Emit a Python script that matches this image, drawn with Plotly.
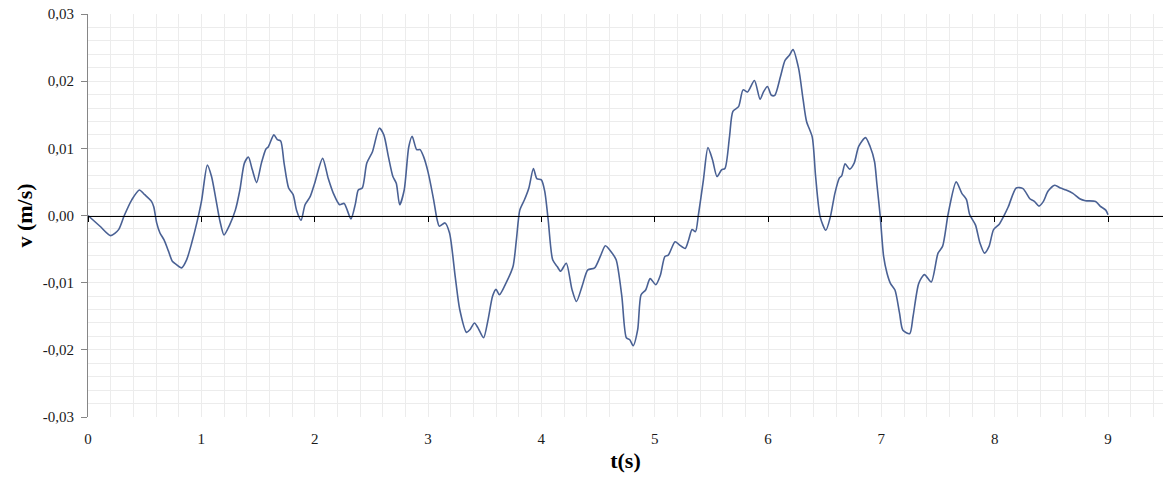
import plotly.graph_objects as go

# time (s)
t = [0, 0.106, 0.2, 0.27, 0.32, 0.385, 0.453, 0.5, 0.56, 0.58, 0.606, 0.635, 0.67, 0.71, 0.744,
     0.78, 0.826, 0.87, 0.915, 0.96, 1.003, 1.053, 1.09, 1.135, 1.165, 1.2, 1.25, 1.30, 1.34,
     1.38, 1.415, 1.45, 1.488, 1.53, 1.57, 1.59, 1.64, 1.67, 1.70, 1.73, 1.77, 1.81, 1.84, 1.88,
     1.915, 1.96, 2.0, 2.07, 2.12, 2.165, 2.22, 2.26, 2.32, 2.36, 2.385, 2.42, 2.46, 2.51, 2.57,
     2.61, 2.65, 2.69, 2.72, 2.75, 2.79, 2.83, 2.86, 2.90, 2.93, 2.96, 3.0, 3.05, 3.08, 3.10,
     3.15, 3.19, 3.24, 3.28, 3.34, 3.37, 3.41, 3.44, 3.49, 3.53, 3.57, 3.60, 3.63, 3.69, 3.75,
     3.78, 3.81, 3.85, 3.89, 3.93, 3.96, 4.0, 4.03, 4.06, 4.10, 4.14, 4.17, 4.22, 4.27, 4.31,
     4.36, 4.41, 4.47, 4.52, 4.565, 4.62, 4.66, 4.71, 4.75, 4.78, 4.81, 4.85, 4.88, 4.92, 4.96,
     5.01, 5.05, 5.09, 5.12, 5.18, 5.22, 5.27, 5.30, 5.33, 5.36, 5.385, 5.43, 5.47, 5.51, 5.55,
     5.59, 5.62, 5.66, 5.69, 5.74, 5.78, 5.82, 5.88, 5.93, 5.96, 5.995, 6.03, 6.06, 6.11, 6.15,
     6.19, 6.22, 6.27, 6.31, 6.34, 6.39, 6.42, 6.46, 6.51, 6.55, 6.59, 6.63, 6.65, 6.68, 6.72,
     6.76, 6.80, 6.86, 6.90, 6.94, 6.96, 6.99, 7.02, 7.05, 7.08, 7.12, 7.16, 7.19, 7.25, 7.28,
     7.33, 7.38, 7.44, 7.50, 7.54, 7.59, 7.66, 7.71, 7.75, 7.78, 7.83, 7.87, 7.91, 7.95, 7.99,
     8.04, 8.08, 8.12, 8.19, 8.25, 8.31, 8.35, 8.39, 8.43, 8.47, 8.53, 8.58, 8.63, 8.69, 8.75,
     8.80, 8.89, 8.93, 8.98, 9.0]

# velocity (m/s)
v = [0.0, -0.0016, -0.0030, -0.0021, 0.0000, 0.0023, 0.0038, 0.0031, 0.0021, 0.0013, -0.0011,
     -0.0026, -0.0036, -0.0053, -0.0068, -0.0073, -0.0078, -0.0066, -0.0041, -0.0011, 0.0023,
     0.0075, 0.0058, 0.0018, -0.0009, -0.0029, -0.0014, 0.0008, 0.0038, 0.0078, 0.0087, 0.0068,
     0.0049, 0.0078, 0.0099, 0.0102, 0.0120, 0.0113, 0.0111, 0.0078, 0.0041, 0.0031, 0.0008,
     -0.0007, 0.0016, 0.0028, 0.0048, 0.0085, 0.0055, 0.0033, 0.0016, 0.0018, -0.0005, 0.0018,
     0.0038, 0.0041, 0.0078, 0.0095, 0.0130, 0.0120, 0.0088, 0.0058, 0.0048, 0.0016, 0.0038,
     0.0102, 0.0118, 0.0098, 0.0098, 0.0088, 0.0065, 0.0023, -0.0006, -0.0016, -0.0011, -0.0026,
     -0.0091, -0.0140, -0.0174, -0.0170, -0.0160, -0.0167, -0.0182, -0.0155, -0.0120, -0.0110,
     -0.0118, -0.0100, -0.0076, -0.0036, 0.0008, 0.0023, 0.0041, 0.0070, 0.0055, 0.0053, 0.0036,
     -0.0006, -0.0066, -0.0076, -0.0083, -0.0071, -0.0110, -0.0128, -0.0105, -0.0081, -0.0078,
     -0.0061, -0.0045, -0.0055, -0.0066, -0.0120, -0.0182, -0.0185, -0.0194, -0.0170, -0.0118,
     -0.0111, -0.0094, -0.0103, -0.0089, -0.0061, -0.0059, -0.0039, -0.0044, -0.0049, -0.0036,
     -0.0021, -0.0024, 0.0000, 0.0053, 0.0101, 0.0083, 0.0058, 0.0068, 0.0070, 0.0117, 0.0155,
     0.0162, 0.0187, 0.0184, 0.0201, 0.0173, 0.0184, 0.0192, 0.0179, 0.0179, 0.0207, 0.0231,
     0.0239, 0.0247, 0.0219, 0.0172, 0.0140, 0.0117, 0.0058, -0.0002, -0.0022, -0.0002, 0.0033,
     0.0056, 0.0059, 0.0077, 0.0069, 0.0078, 0.0103, 0.0116, 0.0103, 0.0080, 0.0048, -0.0001,
     -0.0061, -0.0086, -0.0101, -0.0111, -0.0145, -0.0171, -0.0176, -0.0150, -0.0101, -0.0088,
     -0.0099, -0.0056, -0.0046, 0.0003, 0.0050, 0.0033, 0.0024, 0.0001, -0.0014, -0.0041,
     -0.0056, -0.0046, -0.0021, -0.0013, -0.0001, 0.0013, 0.0041, 0.0040, 0.0025, 0.0021,
     0.0014, 0.0021, 0.0036, 0.0045, 0.0041, 0.0038, 0.0033, 0.0025, 0.0022, 0.0021, 0.0014,
     0.0008, 0.0001]

x_ticks = [0, 1, 2, 3, 4, 5, 6, 7, 8, 9]
x_ticktext = ["0", "1", "2", "3", "4", "5", "6", "7", "8", "9"]
y_ticks = [-0.03, -0.02, -0.01, 0.0, 0.01, 0.02, 0.03]
y_ticktext = ["-0,03", "-0,02", "-0,01", "0,00", "0,01", "0,02", "0,03"]

FONT = "Liberation Serif, Times New Roman, serif"
GRID = "#ececec"

fig = go.Figure()
fig.add_trace(go.Scatter(
    x=t, y=v, mode="lines",
    line=dict(color="#4a6194", width=1.6, shape="spline", smoothing=0.7),
    showlegend=False, hoverinfo="x+y",
))
# invisible companion trace to activate the zero-crossing axis
fig.add_trace(go.Scatter(
    x=t, y=v, mode="lines", xaxis="x2",
    line=dict(color="rgba(0,0,0,0)", width=0),
    showlegend=False, hoverinfo="skip",
))

x_range = [0, 9.485]

fig.update_layout(
    width=1163, height=477,
    margin=dict(l=88, r=0, t=14, b=60),
    paper_bgcolor="white", plot_bgcolor="white",
    font=dict(family=FONT, size=15, color="#1a1a1a"),
    xaxis=dict(
        range=x_range, tickvals=x_ticks, ticktext=x_ticktext,
        showgrid=True, gridcolor=GRID, gridwidth=1,
        minor=dict(dtick=0.2, showgrid=True, gridcolor=GRID, gridwidth=1,
                   ticks="", ticklen=0, tickcolor="rgba(0,0,0,0)"),
        showline=False, zeroline=False,
        ticks="outside", ticklen=8, tickcolor="rgba(0,0,0,0)",
        title=dict(text="<b>t(s)</b>", font=dict(family=FONT, size=22, color="#000"), standoff=6),
    ),
    xaxis2=dict(
        range=x_range, overlaying="x", anchor="free", position=0.5, side="bottom",
        tickvals=x_ticks, showticklabels=False,
        showgrid=False, zeroline=False,
        showline=True, linecolor="#000", linewidth=1,
        ticks="outside", ticklen=5, tickcolor="#000", tickwidth=1,
    ),
    yaxis=dict(
        range=[-0.03, 0.03], tickvals=y_ticks, ticktext=y_ticktext,
        showgrid=True, gridcolor=GRID, gridwidth=1,
        minor=dict(dtick=0.002, showgrid=True, gridcolor=GRID, gridwidth=1,
                   ticks="", ticklen=0, tickcolor="rgba(0,0,0,0)"),
        showline=True, linecolor="#868686", linewidth=1,
        zeroline=False,
        ticks="outside", ticklen=6, tickcolor="#868686",
        ticklabelstandoff=4,
        title=dict(text="<b>v (m/s)</b>", font=dict(family=FONT, size=22, color="#000"), standoff=4),
    ),
)

fig.write_html("out.html")
